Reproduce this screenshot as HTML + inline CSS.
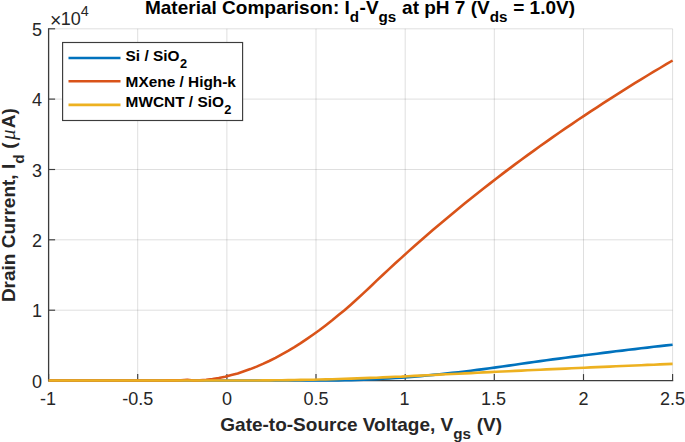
<!DOCTYPE html>
<html><head><meta charset="utf-8"><title>Material Comparison</title>
<style>html,body{margin:0;padding:0;background:#fff}svg{display:block}text{font-family:"Liberation Sans",Arial,sans-serif}</style></head><body>
<svg width="685" height="442" viewBox="0 0 685 442">
<rect width="685" height="442" fill="#fff"/>
<line x1="48.6" y1="28.8" x2="48.6" y2="380.5" stroke="#262626" stroke-opacity="0.15" stroke-width="1"/>
<line x1="137.7" y1="28.8" x2="137.7" y2="380.5" stroke="#262626" stroke-opacity="0.15" stroke-width="1"/>
<line x1="226.9" y1="28.8" x2="226.9" y2="380.5" stroke="#262626" stroke-opacity="0.15" stroke-width="1"/>
<line x1="316.0" y1="28.8" x2="316.0" y2="380.5" stroke="#262626" stroke-opacity="0.15" stroke-width="1"/>
<line x1="405.2" y1="28.8" x2="405.2" y2="380.5" stroke="#262626" stroke-opacity="0.15" stroke-width="1"/>
<line x1="494.3" y1="28.8" x2="494.3" y2="380.5" stroke="#262626" stroke-opacity="0.15" stroke-width="1"/>
<line x1="583.5" y1="28.8" x2="583.5" y2="380.5" stroke="#262626" stroke-opacity="0.15" stroke-width="1"/>
<line x1="672.6" y1="28.8" x2="672.6" y2="380.5" stroke="#262626" stroke-opacity="0.15" stroke-width="1"/>
<line x1="48.6" y1="380.5" x2="672.6" y2="380.5" stroke="#262626" stroke-opacity="0.15" stroke-width="1"/>
<line x1="48.6" y1="310.2" x2="672.6" y2="310.2" stroke="#262626" stroke-opacity="0.15" stroke-width="1"/>
<line x1="48.6" y1="239.8" x2="672.6" y2="239.8" stroke="#262626" stroke-opacity="0.15" stroke-width="1"/>
<line x1="48.6" y1="169.5" x2="672.6" y2="169.5" stroke="#262626" stroke-opacity="0.15" stroke-width="1"/>
<line x1="48.6" y1="99.1" x2="672.6" y2="99.1" stroke="#262626" stroke-opacity="0.15" stroke-width="1"/>
<line x1="48.6" y1="28.8" x2="672.6" y2="28.8" stroke="#262626" stroke-opacity="0.15" stroke-width="1"/>
<line x1="48.6" y1="28.2" x2="48.6" y2="381.3" stroke="#3c3c3c" stroke-width="1.3"/>
<line x1="48.0" y1="380.65" x2="673.2" y2="380.65" stroke="#3c3c3c" stroke-width="1.4"/>
<line x1="48.6" y1="380.5" x2="48.6" y2="374.1" stroke="#3c3c3c" stroke-width="1.15"/>
<line x1="137.7" y1="380.5" x2="137.7" y2="374.1" stroke="#3c3c3c" stroke-width="1.15"/>
<line x1="226.9" y1="380.5" x2="226.9" y2="374.1" stroke="#3c3c3c" stroke-width="1.15"/>
<line x1="316.0" y1="380.5" x2="316.0" y2="374.1" stroke="#3c3c3c" stroke-width="1.15"/>
<line x1="405.2" y1="380.5" x2="405.2" y2="374.1" stroke="#3c3c3c" stroke-width="1.15"/>
<line x1="494.3" y1="380.5" x2="494.3" y2="374.1" stroke="#3c3c3c" stroke-width="1.15"/>
<line x1="583.5" y1="380.5" x2="583.5" y2="374.1" stroke="#3c3c3c" stroke-width="1.15"/>
<line x1="672.6" y1="380.5" x2="672.6" y2="374.1" stroke="#3c3c3c" stroke-width="1.15"/>
<line x1="48.6" y1="380.5" x2="55.1" y2="380.5" stroke="#3c3c3c" stroke-width="1.15"/>
<line x1="48.6" y1="310.2" x2="55.1" y2="310.2" stroke="#3c3c3c" stroke-width="1.15"/>
<line x1="48.6" y1="239.8" x2="55.1" y2="239.8" stroke="#3c3c3c" stroke-width="1.15"/>
<line x1="48.6" y1="169.5" x2="55.1" y2="169.5" stroke="#3c3c3c" stroke-width="1.15"/>
<line x1="48.6" y1="99.1" x2="55.1" y2="99.1" stroke="#3c3c3c" stroke-width="1.15"/>
<line x1="48.6" y1="28.8" x2="55.1" y2="28.8" stroke="#3c3c3c" stroke-width="1.15"/>
<polyline points="48.6,380.5 54.9,380.5 61.2,380.5 67.5,380.5 73.8,380.5 80.1,380.5 86.4,380.5 92.7,380.5 99.0,380.5 105.3,380.5 111.6,380.5 117.9,380.5 124.2,380.5 130.5,380.5 136.8,380.5 143.1,380.5 149.4,380.5 155.8,380.5 162.1,380.5 168.4,380.5 174.7,380.5 181.0,380.5 187.3,380.5 193.6,380.5 199.9,380.5 206.2,380.5 212.5,380.5 218.8,380.5 225.1,380.5 231.4,380.5 237.7,380.5 244.0,380.5 250.3,380.5 256.6,380.5 262.9,380.5 269.2,380.5 275.5,380.5 281.8,380.5 288.1,380.5 294.4,380.5 300.7,380.5 307.0,380.5 313.3,380.5 319.6,380.5 325.9,380.5 332.2,380.5 338.5,380.4 344.8,380.3 351.1,380.1 357.4,379.9 363.8,379.7 370.1,379.4 376.4,379.1 382.7,378.8 389.0,378.4 395.3,378.0 401.6,377.6 407.9,377.1 414.2,376.6 420.5,376.1 426.8,375.5 433.1,374.9 439.4,374.3 445.7,373.6 452.0,372.9 458.3,372.2 464.6,371.5 470.9,370.7 477.2,369.9 483.5,369.1 489.8,368.2 496.1,367.4 502.4,366.5 508.7,365.6 515.0,364.7 521.3,363.8 527.6,362.9 533.9,362.0 540.2,361.1 546.5,360.3 552.8,359.4 559.1,358.6 565.4,357.8 571.8,356.9 578.1,356.1 584.4,355.3 590.7,354.5 597.0,353.7 603.3,352.9 609.6,352.1 615.9,351.3 622.2,350.6 628.5,349.8 634.8,349.1 641.1,348.3 647.4,347.6 653.7,346.8 660.0,346.1 666.3,345.4 672.6,344.7" fill="none" stroke="#0072BD" stroke-width="2.6" stroke-linejoin="round"/>
<polyline points="48.6,380.5 54.9,380.5 61.2,380.5 67.5,380.5 73.8,380.5 80.1,380.5 86.4,380.5 92.7,380.5 99.0,380.5 105.3,380.5 111.6,380.5 117.9,380.5 124.2,380.5 130.5,380.5 136.8,380.5 143.1,380.5 149.4,380.5 155.8,380.5 162.1,380.5 168.4,380.4 174.7,380.4 181.0,380.2 187.3,379.7 193.6,380.5 199.9,380.3 206.2,379.8 212.5,379.0 218.8,378.0 225.1,376.7 231.4,375.1 237.7,373.4 244.0,371.3 250.3,369.1 256.6,366.6 262.9,363.9 269.2,361.0 275.5,357.8 281.8,354.4 288.1,350.9 294.4,347.1 300.7,343.1 307.0,338.9 313.3,334.5 319.6,330.0 325.9,325.2 332.2,320.3 338.5,315.1 344.8,309.9 351.1,304.4 357.4,298.7 363.8,292.9 370.1,287.0 376.4,280.9 382.7,275.0 389.0,269.1 395.3,263.3 401.6,257.6 407.9,251.9 414.2,246.3 420.5,240.8 426.8,235.3 433.1,229.8 439.4,224.5 445.7,219.2 452.0,213.9 458.3,208.7 464.6,203.6 470.9,198.5 477.2,193.5 483.5,188.5 489.8,183.6 496.1,178.7 502.4,173.9 508.7,169.1 515.0,164.4 521.3,159.8 527.6,155.1 533.9,150.6 540.2,146.0 546.5,141.6 552.8,137.1 559.1,132.7 565.4,128.4 571.8,124.1 578.1,119.8 584.4,115.6 590.7,111.4 597.0,107.3 603.3,103.2 609.6,99.1 615.9,95.1 622.2,91.1 628.5,87.1 634.8,83.2 641.1,79.4 647.4,75.5 653.7,71.7 660.0,68.0 666.3,64.2 672.6,60.5" fill="none" stroke="#D95319" stroke-width="2.6" stroke-linejoin="round"/>
<polyline points="48.6,380.5 54.9,380.5 61.2,380.5 67.5,380.5 73.8,380.5 80.1,380.5 86.4,380.5 92.7,380.5 99.0,380.5 105.3,380.5 111.6,380.5 117.9,380.5 124.2,380.5 130.5,380.5 136.8,380.5 143.1,380.5 149.4,380.5 155.8,380.5 162.1,380.5 168.4,380.5 174.7,380.5 181.0,380.5 187.3,380.5 193.6,380.5 199.9,380.5 206.2,380.5 212.5,380.5 218.8,380.5 225.1,380.5 231.4,380.5 237.7,380.5 244.0,380.5 250.3,380.5 256.6,380.5 262.9,380.4 269.2,380.4 275.5,380.3 281.8,380.2 288.1,380.1 294.4,380.0 300.7,379.9 307.0,379.8 313.3,379.7 319.6,379.5 325.9,379.4 332.2,379.2 338.5,379.0 344.8,378.8 351.1,378.6 357.4,378.4 363.8,378.1 370.1,377.9 376.4,377.7 382.7,377.4 389.0,377.1 395.3,376.8 401.6,376.6 407.9,376.2 414.2,375.9 420.5,375.6 426.8,375.3 433.1,375.0 439.4,374.6 445.7,374.3 452.0,374.0 458.3,373.7 464.6,373.4 470.9,373.1 477.2,372.8 483.5,372.4 489.8,372.1 496.1,371.8 502.4,371.5 508.7,371.2 515.0,370.9 521.3,370.6 527.6,370.3 533.9,370.0 540.2,369.7 546.5,369.4 552.8,369.1 559.1,368.9 565.4,368.6 571.8,368.3 578.1,368.0 584.4,367.7 590.7,367.4 597.0,367.1 603.3,366.9 609.6,366.6 615.9,366.3 622.2,366.0 628.5,365.8 634.8,365.5 641.1,365.2 647.4,364.9 653.7,364.7 660.0,364.4 666.3,364.1 672.6,363.9" fill="none" stroke="#EDB120" stroke-width="2.6" stroke-linejoin="round"/>
<text x="47.9" y="404.8" font-size="18" fill="#262626" text-anchor="middle">-1</text>
<text x="137.7" y="404.8" font-size="18" fill="#262626" text-anchor="middle">-0.5</text>
<text x="226.9" y="404.8" font-size="18" fill="#262626" text-anchor="middle">0</text>
<text x="316.0" y="404.8" font-size="18" fill="#262626" text-anchor="middle">0.5</text>
<text x="404.5" y="404.8" font-size="18" fill="#262626" text-anchor="middle">1</text>
<text x="493.6" y="404.8" font-size="18" fill="#262626" text-anchor="middle">1.5</text>
<text x="583.5" y="404.8" font-size="18" fill="#262626" text-anchor="middle">2</text>
<text x="672.6" y="404.8" font-size="18" fill="#262626" text-anchor="middle">2.5</text>
<text x="42" y="387.8" font-size="18" fill="#262626" text-anchor="end">0</text>
<text x="42" y="317.4" font-size="18" fill="#262626" text-anchor="end">1</text>
<text x="42" y="247.1" font-size="18" fill="#262626" text-anchor="end">2</text>
<text x="42" y="176.7" font-size="18" fill="#262626" text-anchor="end">3</text>
<text x="42" y="106.4" font-size="18" fill="#262626" text-anchor="end">4</text>
<text x="42" y="36.1" font-size="18" fill="#262626" text-anchor="end">5</text>
<text x="50" y="25" font-size="18" fill="#262626"><tspan font-size="19.5" dy="1.9">×</tspan><tspan dy="-1.9" dx="-0.6">10</tspan><tspan dy="-8.8" font-size="14.4">4</tspan></text>
<text x="360" y="13.9" font-size="19" font-weight="bold" fill="#000" text-anchor="middle">Material Comparison: I<tspan dy="8.3" font-size="15.2">d</tspan><tspan dy="-8.3" dx="0.5">-V</tspan><tspan dy="8.3" font-size="15.2">gs</tspan><tspan dy="-8.3" dx="0.5"> at pH 7 (V</tspan><tspan dy="8.3" font-size="15.2">ds</tspan><tspan dy="-8.3" dx="0.5"> = 1.0V)</tspan></text>
<text x="361.2" y="430.7" font-size="19" font-weight="bold" fill="#262626" text-anchor="middle">Gate-to-Source Voltage, V<tspan dy="8.3" font-size="15.2">gs</tspan><tspan dy="-8.3" dx="0.5"> (V)</tspan></text>
<text transform="translate(15.2,205.15) rotate(-90)" font-size="19" font-weight="bold" fill="#262626" text-anchor="middle">Drain Current, I<tspan dy="8.3" font-size="15.2">d</tspan><tspan dy="-8.3" dx="0.5"> (</tspan><tspan font-weight="normal" font-style="italic" font-family="Liberation Serif, serif" font-size="21" dx="2.3">μ</tspan><tspan dx="1.3">A)</tspan></text>
<rect x="62.6" y="42.5" width="180" height="78" fill="#fff" stroke="#3c3c3c" stroke-width="1.15"/>
<line x1="68.5" y1="58.0" x2="120.5" y2="58.0" stroke="#0072BD" stroke-width="2.6"/>
<text x="125.6" y="60.9" font-size="15.4" font-weight="bold" fill="#000">Si / SiO<tspan dy="7" dx="0.4" font-size="12.8">2</tspan></text>
<line x1="68.5" y1="81.3" x2="120.5" y2="81.3" stroke="#D95319" stroke-width="2.6"/>
<text x="125.6" y="87.2" font-size="15.4" font-weight="bold" fill="#000">MXene / High-k</text>
<line x1="68.5" y1="104.9" x2="120.5" y2="104.9" stroke="#EDB120" stroke-width="2.6"/>
<text x="125.6" y="107.1" font-size="15.4" font-weight="bold" fill="#000">MWCNT / SiO<tspan dy="7" dx="0.4" font-size="12.8">2</tspan></text>
</svg></body></html>
